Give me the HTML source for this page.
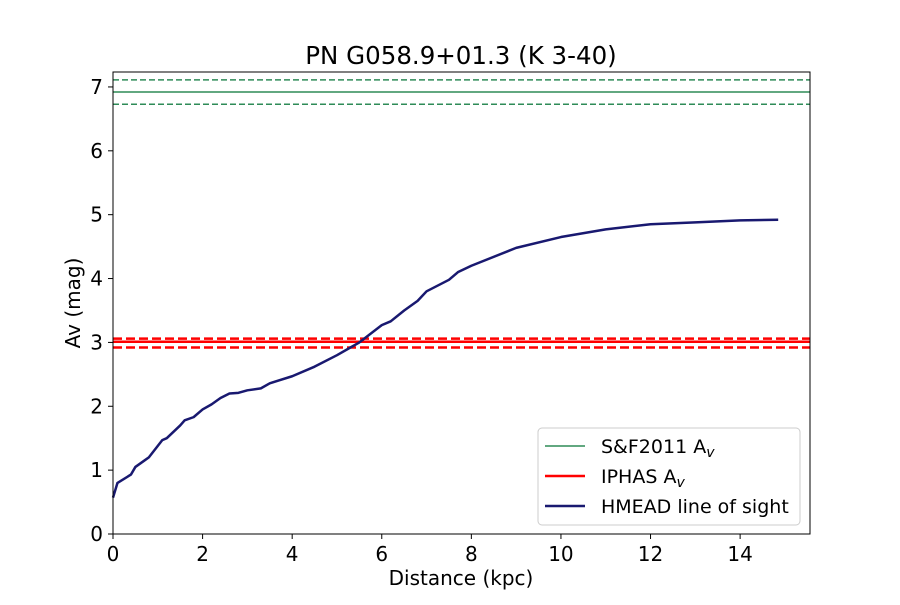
<!DOCTYPE html>
<html><head><meta charset="utf-8"><style>body{margin:0;background:#fff}svg text{font-family:"DejaVu Sans","Liberation Sans",sans-serif}</style></head>
<body>
<svg id="chart" width="900" height="600"></svg>
<script>
const distances=[0,0.1,0.4,0.5,0.7,0.8,1.0,1.1,1.2,1.5,1.6,1.8,2.0,2.2,2.4,2.6,2.8,3.0,3.3,3.5,4.0,4.5,5.0,5.3,5.5,6.0,6.2,6.5,6.8,7.0,7.5,7.7,8,9,10,11,12,13,14,14.85];
const avValues=[0.57,0.8,0.93,1.05,1.15,1.2,1.38,1.47,1.5,1.7,1.78,1.83,1.95,2.03,2.13,2.2,2.21,2.25,2.28,2.36,2.47,2.62,2.8,2.92,3.0,3.27,3.33,3.5,3.65,3.8,3.98,4.1,4.2,4.48,4.65,4.77,4.85,4.88,4.91,4.92];
const sfAv=[6.92,7.11,6.73];
const iphasAv=[3.01,3.06,2.92];
const xTicks=[0,2,4,6,8,10,12,14];
const yTicks=[0,1,2,3,4,5,6,7];
const NS="http://www.w3.org/2000/svg";
const svg=document.getElementById('chart');
const L=113,R=810,T=72,B=534,XMAX=15.56,YMAX=7.234;
const xs=v=>L+v/XMAX*(R-L), ys=v=>B-v/YMAX*(B-T);
function mk(tag,attrs,parent){const e=document.createElementNS(NS,tag);for(const k in attrs)e.setAttribute(k,attrs[k]);(parent||svg).appendChild(e);return e;}
function txt(s,attrs){const e=mk('text',attrs);e.textContent=s;return e;}
function hline(v,color,w,dash,name){const e=mk('line',{x1:L,x2:R,y1:ys(v),y2:ys(v),stroke:color,'stroke-width':w,'stroke-dasharray':dash||'none'});

}
hline(sfAv[0],'#2e8b57',1.5,null,'sf2011-av-line');
hline(sfAv[1],'#2e8b57',1.5,'6,3','sf2011-upper-line');
hline(sfAv[2],'#2e8b57',1.5,'6,3','sf2011-lower-line');
hline(iphasAv[0],'#ff0000',2.5,null,'iphas-av-line');
hline(iphasAv[1],'#ff0000',2.5,'9,4','iphas-upper-line');
hline(iphasAv[2],'#ff0000',2.5,'9,4','iphas-lower-line');
const p=mk('polyline',{points:distances.map((d,i)=>xs(d)+','+ys(avValues[i])).join(' '),fill:'none',stroke:'#191970','stroke-width':2.5,'stroke-linejoin':'round'});


const frame=mk('rect',{x:L,y:T,width:R-L,height:B-T,fill:'none',stroke:'#000','stroke-width':1});


xTicks.forEach(t=>{mk('line',{x1:xs(t),x2:xs(t),y1:B,y2:B+5,stroke:'#000'});const e=txt(t,{x:xs(t),y:B+27,'text-anchor':'middle','font-size':20});

});
yTicks.forEach(t=>{mk('line',{x1:L-5,x2:L,y1:ys(t),y2:ys(t),stroke:'#000'});const e=txt(t,{x:L-10,y:ys(t)+7,'text-anchor':'end','font-size':20});

});
let e=txt('Distance (kpc)',{x:461,y:585,'text-anchor':'middle','font-size':20});


e=txt('Av (mag)',{x:0,y:0,'text-anchor':'middle','font-size':20,transform:'translate(80,303) rotate(-90)'});


e=txt('PN G058.9+01.3 (K 3-40)',{x:461,y:64,'text-anchor':'middle','font-size':24.5});


const lg=mk('g',{});


mk('rect',{x:538,y:428,width:262,height:97,rx:4,fill:'#fff',stroke:'#ccc'},lg);
[['#2e8b57',1.5,'S&F2011 A','v',446],['#ff0000',2.5,'IPHAS A','v',476],['#191970',2.5,'HMEAD line of sight','',506]].forEach(r=>{
mk('line',{x1:545,x2:585,y1:r[4],y2:r[4],stroke:r[0],'stroke-width':r[1]},lg);
const t=mk('text',{x:601,y:r[4]+7,'font-size':19},lg);t.textContent=r[2];
if(r[3]){const s=mk('tspan',{'font-size':14,dy:4,'font-style':'italic'},t);s.textContent=r[3];}


});
</script>
</body></html>
